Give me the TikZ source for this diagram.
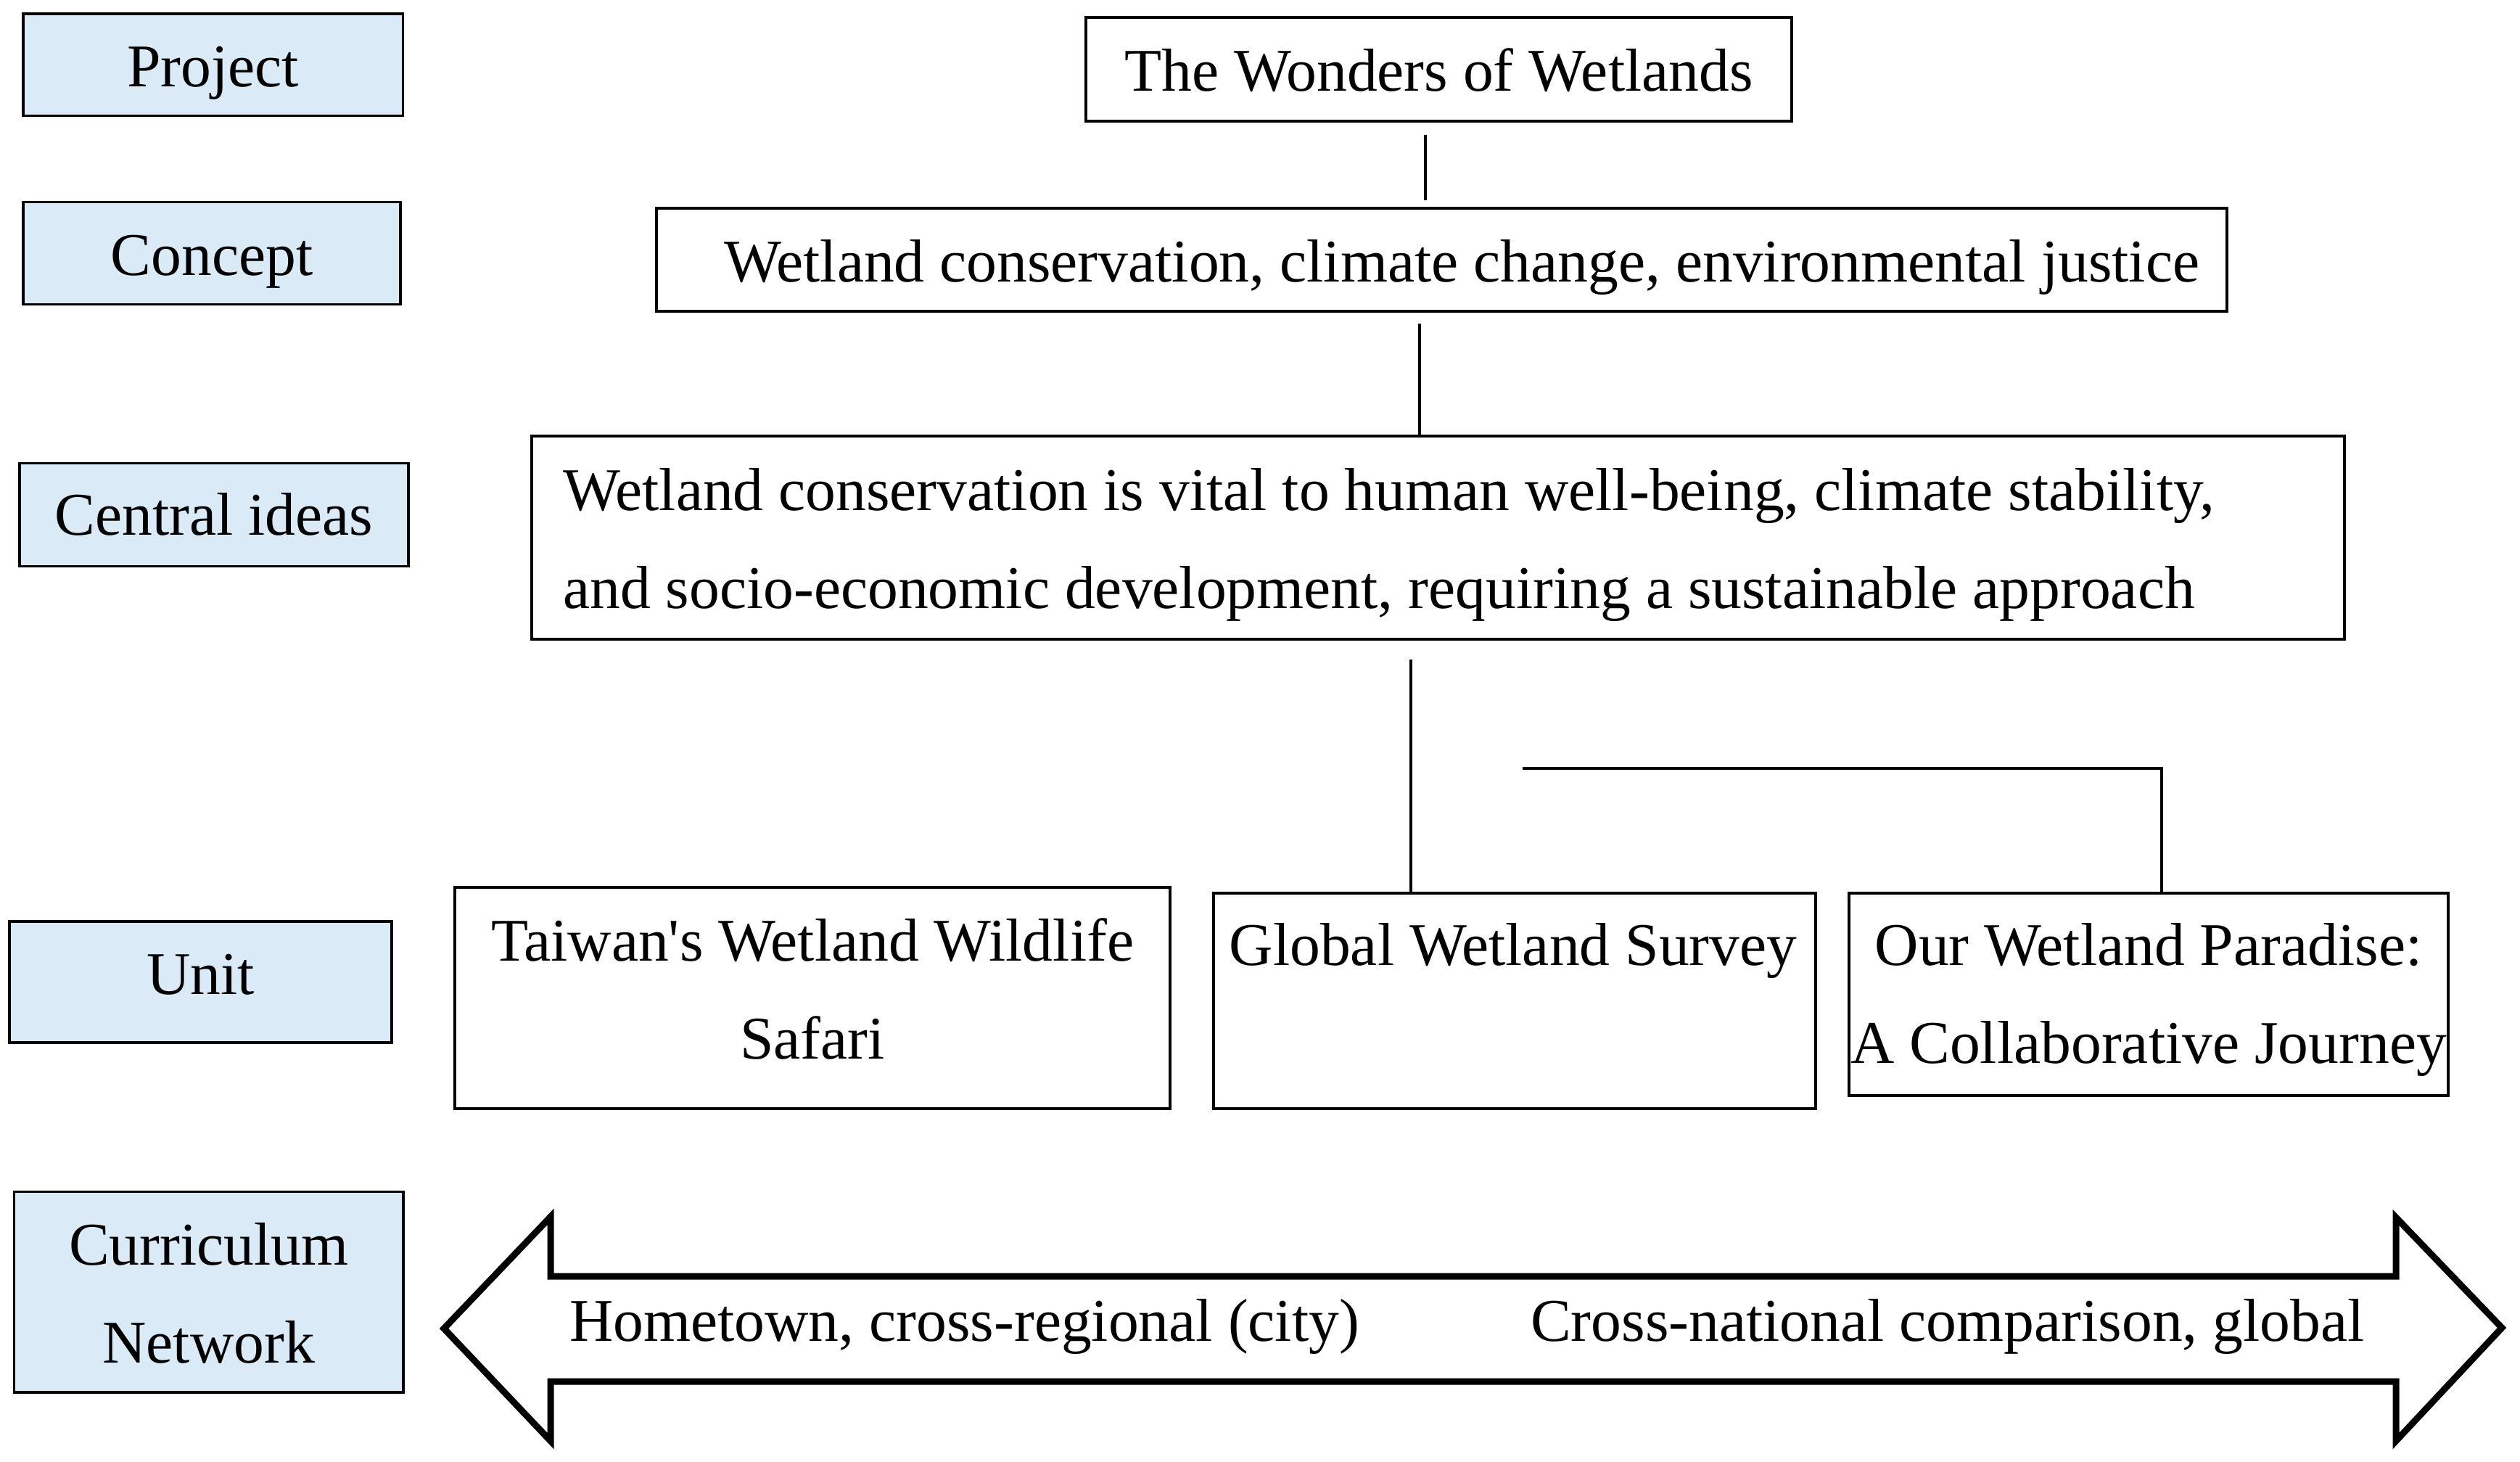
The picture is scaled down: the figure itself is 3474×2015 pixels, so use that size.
\documentclass[tikz,border=0pt]{standalone}
\usepackage{fontspec}
\setmainfont{Liberation Serif}
\usetikzlibrary{calc}
\definecolor{labelblue}{RGB}{218,234,247}
\newcommand{\fz}{\fontsize{83.6pt}{135pt}\selectfont}
\newcommand{\tstrut}{\rule{0pt}{70pt}}
\begin{document}
\begin{tikzpicture}[x=1pt,y=-1pt,
  lblbox/.style={draw=black, line width=3.5pt, fill=labelblue, inner sep=0pt},
  mainbox/.style={draw=black, line width=4pt, fill=white, inner sep=0pt},
  txt/.style={inner sep=0pt, font=\fz},
  conn/.style={draw=black, line width=4pt},
  bigarrow/.style={draw=black, line width=9pt, line join=miter}]
\useasboundingbox (0,0) rectangle (3474,2015);
% left label boxes
\node[lblbox, minimum width=523.5pt, minimum height=140.6pt] (projectL) at (293.75,89.3) {};
\node[lblbox, minimum width=520pt, minimum height=141.2pt] (conceptL) at (292,349) {};
\node[lblbox, minimum width=536.2pt, minimum height=142.4pt] (centralL) at (294.9,709.5) {};
\node[lblbox, minimum width=527pt, minimum height=167pt] (unitL) at (276.5,1353.5) {};
\node[lblbox, minimum width=536.5pt, minimum height=276.5pt] (currL) at (287.75,1780.75) {};
\node[txt, anchor=base] (tProject) at (293.75,119.4) {Project};
\node[txt, anchor=base] (tConcept) at (292,379) {Concept};
\node[txt, anchor=base] (tCentral) at (294.9,737.6) {Central ideas};
\node[txt, anchor=base] (tUnit) at (276.5,1370.6) {Unit};
\node[txt, anchor=north, align=center] (tCurr) at (287.75,1673) {\tstrut Curriculum\\Network};
% main boxes
\node[mainbox, minimum width=973pt, minimum height=142.5pt] (wonders) at (1983.5,95.25) {};
\node[mainbox, minimum width=2164.5pt, minimum height=142pt] (conceptR) at (1987.25,358) {};
\node[mainbox, minimum width=2499pt, minimum height=280pt] (centralR) at (1982.5,740.7) {};
\node[mainbox, minimum width=986pt, minimum height=305pt] (taiwan) at (1120,1375.5) {};
\node[mainbox, minimum width=829.5pt, minimum height=297pt] (global) at (2087.75,1379.5) {};
\node[mainbox, minimum width=826pt, minimum height=278.5pt] (our) at (2962,1370.25) {};
\node[txt, anchor=base] (tWonders) at (1983.5,126) {The Wonders of Wetlands};
\node[txt, anchor=base west] (tConceptR) at (998,388) {Wetland conservation, climate change, environmental justice};
\node[txt, anchor=north west, align=left] (tCentralR) at (776,633) {\tstrut Wetland conservation is vital to human well-being, climate stability,\\and socio-economic development, requiring a sustainable approach};
\node[txt, anchor=north, align=center] (tTaiwan) at (1120,1254) {\tstrut Taiwan\textquotesingle s Wetland Wildlife\\Safari};
\node[txt, anchor=base] (tGlobal) at (2086,1330) {Global Wetland Survey};
\node[txt, anchor=north, align=center] (tOur) at (2962,1260) {\tstrut Our Wetland Paradise:\\A Collaborative Journey};
% connectors
\draw[conn] ($(wonders.south)+(-18.5,17.5)$) -- ($(wonders.south |- conceptR.north)+(-18.5,-9)$);
\draw[conn] ($(conceptR.south)+(-30.25,15)$) -- ($(conceptR.south |- centralR.north)+(-30.25,0)$);
\draw[conn] ($(centralR.south)+(-37.9,26.3)$) -- ($(centralR.south |- global.north)+(-37.9,0)$);
\coordinate (bstart) at (2099,1059);
\draw[conn] (bstart) -| ($(our.north)+(18,0)$);
% double arrow
\draw[bigarrow] (612,1831) -- (759,1677) -- (759,1759) -- (3303,1759) -- (3303,1678) -- (3449,1830) -- (3303,1986) -- (3303,1904) -- (759,1904) -- (759,1986) -- cycle;
\node[txt, anchor=base west] (tHome) at (785,1848) {Hometown, cross-regional (city)};
\node[txt, anchor=base west] (tCross) at (2110,1848) {Cross-national comparison, global};
\end{tikzpicture}
\end{document}
